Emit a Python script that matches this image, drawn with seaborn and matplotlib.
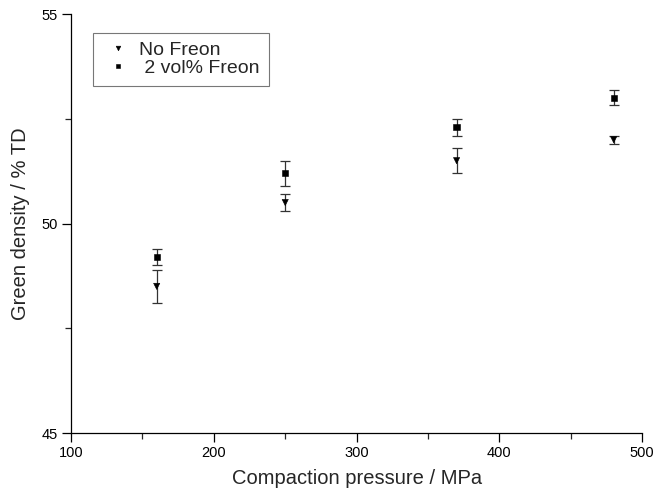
import numpy as np
import pandas as pd
import matplotlib
matplotlib.use('Agg')
import matplotlib.pyplot as plt
from matplotlib.ticker import MultipleLocator
import seaborn as sns

# values
pressure = [160, 250, 370, 480]
density_no_freon = [48.5, 50.5, 51.5, 52.0]
err_no_freon = [0.4, 0.2, 0.3, 0.1]
density_freon = [49.2, 51.2, 52.3, 53.0]
err_freon = [0.2, 0.3, 0.2, 0.18]
series_names = ['No Freon', ' 2 vol% Freon']

df = pd.DataFrame({
    'pressure': pressure * 2,
    'density': density_no_freon + density_freon,
    'err': err_no_freon + err_freon,
    'series': [series_names[0]] * 4 + [series_names[1]] * 4,
})

sns.set_style('ticks')
plt.rcParams['font.family'] = ['Liberation Sans', 'DejaVu Sans']

fig = plt.figure(figsize=(6.54, 4.93), dpi=100)
ax = fig.add_axes([0.1086, 0.1217, 0.982 - 0.1086, 0.9716 - 0.1217])

# error bars first, markers on top
for name in series_names:
    sub = df[df['series'] == name]
    ax.errorbar(sub['pressure'], sub['density'], yerr=sub['err'], fmt='none',
                ecolor='#333333', elinewidth=0.9, capsize=3.6, capthick=0.9, zorder=2)

sns.scatterplot(data=df, x='pressure', y='density', style='series',
                markers={series_names[0]: 'v', series_names[1]: 's'},
                color='black', s=20, edgecolor='black', linewidth=0.4,
                ax=ax, zorder=3, legend=True)

ax.set_xlim(100, 500)
ax.set_ylim(45, 55)
ax.xaxis.set_major_locator(MultipleLocator(100))
ax.xaxis.set_minor_locator(MultipleLocator(50))
ax.yaxis.set_major_locator(MultipleLocator(5))
ax.yaxis.set_minor_locator(MultipleLocator(2.5))
ax.tick_params(which='major', direction='out', length=6.5, width=0.9,
               labelsize=10.5, pad=3, colors='black')
ax.tick_params(which='minor', direction='out', length=4.2, width=0.9)

for side in ['top', 'right']:
    ax.spines[side].set_visible(False)
for side in ['left', 'bottom']:
    ax.spines[side].set_linewidth(0.9)
    ax.spines[side].set_color('black')

ax.set_xlabel('Compaction pressure / MPa', fontsize=14.5, labelpad=6)
ax.set_ylabel('Green density / % TD', fontsize=14.5, labelpad=8)

handles, labels = ax.get_legend_handles_labels()
leg = ax.legend(handles, labels, loc='upper left', bbox_to_anchor=(0.038, 0.955),
                borderaxespad=0, fontsize=14, frameon=True, fancybox=False,
                edgecolor='#555555', labelspacing=0.0, handletextpad=0.3,
                borderpad=0.45, handlelength=1.65, markerscale=0.75)
leg.get_frame().set_linewidth(0.8)

fig.savefig('out.png', dpi=100)
